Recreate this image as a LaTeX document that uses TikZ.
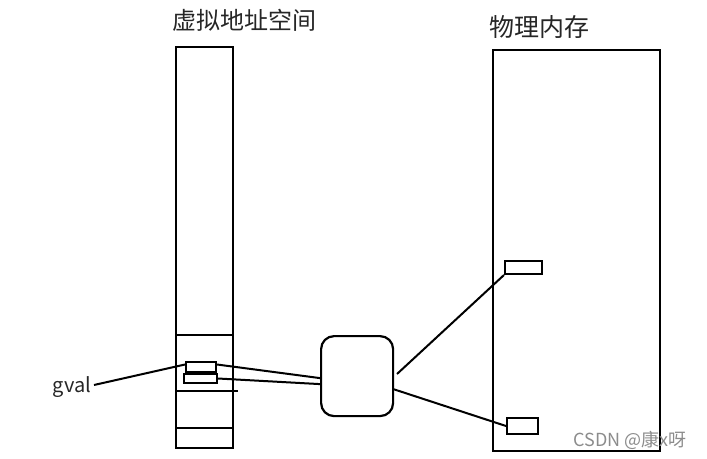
\documentclass[tikz,border=0pt]{standalone}
\usepackage{fontspec}
\setmainfont{Noto Sans CJK SC}
\begin{document}
\begin{tikzpicture}[x=1pt,y=-1pt,
  blk/.style={draw,line width=2.2pt,inner sep=0pt,anchor=north west},
  cell/.style={draw,line width=2pt,inner sep=0pt,anchor=north west},
  wire/.style={line width=2pt},
  title/.style={font=\fontsize{24}{26}\selectfont,text=black!85,inner sep=0pt}]
\useasboundingbox (0,0) rectangle (707,458);
% virtual address space column
\node[blk,minimum width=57pt,minimum height=401pt] (va) at (175,46) {};
\coordinate (h1) at (175,335); \coordinate (h1e) at (232,335);
\coordinate (h2) at (175,391); \coordinate (h2e) at (238,391);
\coordinate (h3) at (175,428); \coordinate (h3e) at (232,428);
\draw[wire] (h1) -- (h1e);
\draw[wire] (h2) -- (h2e);
\draw[wire] (h3) -- (h3e);
\node[cell,minimum width=30pt,minimum height=10pt] (ub) at (185,361) {};
\node[cell,minimum width=33pt,minimum height=9pt] (lb) at (183,372.5) {};
% physical memory
\node[blk,minimum width=167pt,minimum height=401pt] (pm) at (492,49) {};
\node[cell,minimum width=37pt,minimum height=13pt] (pu) at (504,260) {};
\node[cell,minimum width=31pt,minimum height=16pt] (pl) at (506,417) {};
% rounded box
\node[blk,rounded corners=13pt,minimum width=72pt,minimum height=80pt] (rb) at (320,335) {};
% titles
\node[title] (t1) at (244,20) {虚拟地址空间};
\node[title,font=\fontsize{25}{27}\selectfont] (t2) at (539,27) {物理内存};
\node[font=\fontsize{20}{22}\selectfont,text=black!85,inner sep=0pt] (gv) at (72,387) {gval};
\node[font=\fontsize{18}{20}\selectfont,text=black!45,inner sep=0pt] (wm) at (630,440) {CSDN @康x呀};
% connectors
\coordinate (gve) at (94,385);
\draw[wire] (gve) -- ([yshift=2.5pt]ub.west);
\draw[wire] ([yshift=2.5pt]ub.east) -- ([yshift=-2pt]rb.west);
\draw[wire] ([yshift=-0.5pt]lb.east) -- ([yshift=-8pt]rb.west);
\coordinate (r1) at (397,374);
\coordinate (r2) at (393,389);
\draw[wire] (r1) -- (pu.south west);
\draw[wire] (r2) -- (pl.west);
\end{tikzpicture}
\end{document}
